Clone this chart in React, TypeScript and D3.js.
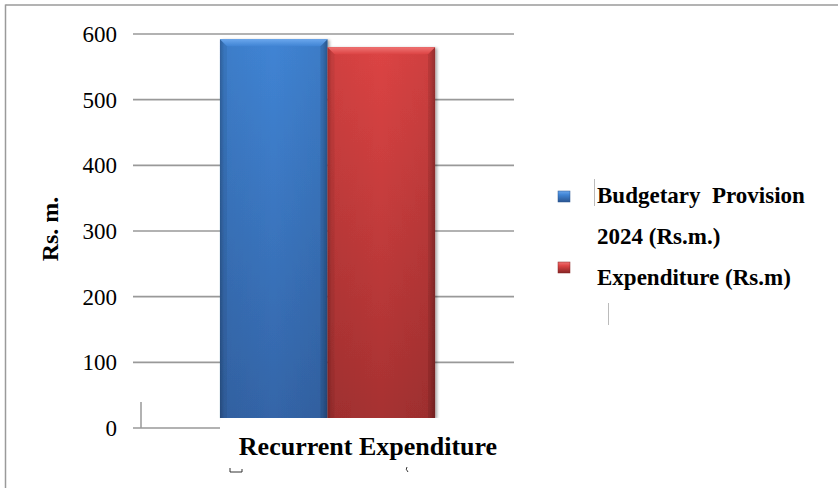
import React from "react";
import * as d3 from "d3";

const categories = ["Recurrent Expenditure"];
const seriesNames = ["Budgetary Provision 2024 (Rs.m.)", "Expenditure (Rs.m)"];
const budgetValues = [592];
const expenditureValues = [580];
const yTicks = [0, 100, 200, 300, 400, 500, 600];
const yTitle = "Rs. m.";

const W = 838;
const H = 488;
const plotLeft = 141;
const plotRight = 514;
const plotTop = 34;
const plotBottom = 428;

const FONT = '"Liberation Serif", "Times New Roman", Times, "DejaVu Serif", serif';

const seriesColors = [
  { top: "#6aa6ec", body0: "#4084d4", body1: "#3465a8", edge: "#2a5590" },
  { top: "#f07474", body0: "#dc4444", body1: "#a63131", edge: "#862424" },
];

export default function App() {
  const y = d3.scaleLinear().domain([0, 600]).range([plotBottom, plotTop]);
  const x = d3
    .scaleBand<string>()
    .domain(categories)
    .range([plotLeft, plotRight])
    .paddingInner(0)
    .paddingOuter(0.367);
  const xs = d3
    .scaleBand<string>()
    .domain(seriesNames)
    .range([0, x.bandwidth()])
    .padding(0);

  const seriesValues = [budgetValues, expenditureValues];
  const labelBoxTop = 418;
  const bevel = 7;

  const bars: React.ReactNode[] = [];
  categories.forEach((c, ci) => {
    seriesNames.forEach((s, si) => {
      const v = seriesValues[si][ci];
      const bx = (x(c) as number) + (xs(s) as number);
      const bw = xs.bandwidth();
      const by = y(v);
      const bh = labelBoxTop - by;
      const b = bevel;
      bars.push(
        <g key={c + s} filter="url(#shadow)">
          <rect x={bx} y={by} width={bw} height={bh} fill={`url(#body${si})`} />
          <rect x={bx} y={by} width={bw} height={bh} fill="url(#sideShade)" />
          <polygon
            points={`${bx},${by} ${bx + bw},${by} ${bx + bw - b},${by + b} ${bx + b},${by + b}`}
            fill={`url(#topface${si})`}
          />
          <polygon
            points={`${bx},${by} ${bx + b},${by + b} ${bx + b},${by + bh} ${bx},${by + bh}`}
            fill="#000"
            opacity={0.06}
          />
          <polygon
            points={`${bx + bw},${by} ${bx + bw - b},${by + b} ${bx + bw - b},${by + bh} ${bx + bw},${by + bh}`}
            fill="#000"
            opacity={0.1}
          />
        </g>
      );
    });
  });

  const legendItems = [
    { lines: ["Budgetary  Provision", "2024 (Rs.m.)"], textY: 195, markerY: 197, si: 0 },
    { lines: ["Expenditure (Rs.m)"], textY: 277, markerY: 268, si: 1 },
  ];

  const txt = { fontFamily: FONT };

  return (
    <svg
      width={W}
      height={H}
      style={{ position: "fixed", left: 0, top: 0, background: "#fff", fontFamily: FONT }}
    >
      <defs>
        {seriesColors.map((c, i) => (
          <React.Fragment key={i}>
            <linearGradient id={`body${i}`} x1="0" y1="0" x2="0" y2="1">
              <stop offset="0" stopColor={c.body0} />
              <stop offset="1" stopColor={c.body1} />
            </linearGradient>
            <linearGradient id={`topface${i}`} x1="0" y1="0" x2="0" y2="1">
              <stop offset="0" stopColor={c.top} />
              <stop offset="1" stopColor={c.body0} />
            </linearGradient>
            <linearGradient id={`marker${i}`} x1="0" y1="0" x2="0" y2="1">
              <stop offset="0" stopColor={c.top} />
              <stop offset="0.35" stopColor={c.body0} />
              <stop offset="1" stopColor={c.edge} />
            </linearGradient>
          </React.Fragment>
        ))}
        <linearGradient id="sideShade" x1="0" y1="0" x2="1" y2="0">
          <stop offset="0" stopColor="#000" stopOpacity={0.22} />
          <stop offset="0.04" stopColor="#000" stopOpacity={0.05} />
          <stop offset="0.5" stopColor="#000" stopOpacity={0} />
          <stop offset="0.95" stopColor="#000" stopOpacity={0.06} />
          <stop offset="1" stopColor="#000" stopOpacity={0.25} />
        </linearGradient>
        <filter id="shadow" x="-10%" y="-10%" width="125%" height="125%">
          <feDropShadow dx="2" dy="1" stdDeviation="1.8" floodColor="#000" floodOpacity="0.35" />
        </filter>
      </defs>

      {/* outer border */}
      <line x1={5.5} y1={5} x2={W} y2={5} stroke="#9a9a9a" strokeWidth={1.5} />
      <line x1={5.5} y1={4.5} x2={5.5} y2={H} stroke="#9a9a9a" strokeWidth={1.5} />

      {/* gridlines + ticks */}
      {yTicks.map((t) => (
        <g key={t}>
          <line
            x1={133}
            x2={t === 0 ? 220 : plotRight}
            y1={y(t)}
            y2={y(t)}
            stroke="#999"
            strokeWidth={1.6}
          />
          <text x={117} y={y(t)} dy="0.35em" textAnchor="end" fontSize={23} fill="#000" style={txt}>
            {t}
          </text>
        </g>
      ))}
      <line x1={plotLeft} x2={plotLeft} y1={402} y2={plotBottom} stroke="#999" strokeWidth={1.5} />

      {/* y title */}
      <text
        transform={`translate(58,229) rotate(-90)`}
        textAnchor="middle"
        fontSize={24}
        fontWeight="bold"
        fill="#000"
        style={txt}
      >
        {yTitle}
      </text>

      {bars}

      {/* category label box */}
      <rect x={220.5} y={labelBoxTop} width={300} height={52} fill="#fff" />
      {categories.map((c) => (
        <text
          key={c}
          x={368}
          y={455}
          textAnchor="middle"
          fontSize={26}
          fontWeight="bold"
          fill="#000"
          style={txt}
        >
          {c}
        </text>
      ))}
      <path d="M230,468 L230,472 L242,472 L242,469" fill="none" stroke="#333" strokeWidth={1} />
      <path d="M407,467 Q405,469 408,472" fill="none" stroke="#333" strokeWidth={1} />

      {/* legend */}
      {legendItems.map((it) => (
        <g key={it.si}>
          <rect
            x={558}
            y={it.markerY - 6}
            width={12}
            height={11}
            fill={`url(#marker${it.si})`}
            stroke={seriesColors[it.si].edge}
            strokeWidth={0.5}
          />
          {it.lines.map((ln, li) => (
            <text
              key={li}
              x={597}
              y={it.textY + li * 41}
              dy="0.35em"
              fontSize={23}
              fontWeight="bold"
              fill="#000"
              style={{ ...txt, whiteSpace: "pre" }}
            >
              {ln}
            </text>
          ))}
        </g>
      ))}
      <line x1={594.5} x2={594.5} y1={179} y2={206} stroke="#bbb" strokeWidth={1} />
      <line x1={608.5} x2={608.5} y1={303} y2={325} stroke="#bbb" strokeWidth={1} />
    </svg>
  );
}
